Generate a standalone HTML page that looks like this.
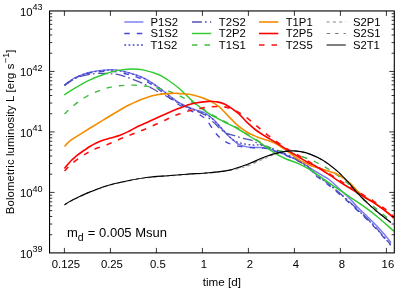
<!DOCTYPE html><html><head><meta charset="utf-8"><style>html,body{margin:0;padding:0;background:#fff}svg{display:block;will-change:transform;opacity:0.999}text{font-family:"Liberation Sans",sans-serif;fill:#000}</style></head><body>
<svg width="415" height="290" viewBox="0 0 415 290">
<rect width="415" height="290" fill="#fff"/>
<defs><clipPath id="c"><rect x="49.5" y="10.9" width="344.8" height="242.0"/></clipPath></defs>
<g fill="none" stroke-linejoin="round" clip-path="url(#c)">
<path d="M64.50,85.10 C66.17,83.92 70.42,80.10 74.50,78.00 C78.58,75.90 84.17,73.82 89.00,72.50 C93.83,71.18 99.17,70.53 103.50,70.10 C107.83,69.67 110.67,69.45 115.00,69.90 C119.33,70.35 124.67,71.43 129.50,72.80 C134.33,74.17 139.17,75.70 144.00,78.10 C148.83,80.50 153.67,83.82 158.50,87.20 C163.33,90.58 169.42,95.77 173.00,98.40 C176.58,101.03 176.50,101.18 180.00,103.00 C183.50,104.82 189.83,107.63 194.00,109.30 C198.17,110.97 201.75,111.28 205.00,113.00 C208.25,114.72 210.88,117.18 213.50,119.60 C216.12,122.02 218.28,124.85 220.70,127.50 C223.12,130.15 225.82,133.32 228.00,135.50 C230.18,137.68 232.13,139.18 233.80,140.60 C235.47,142.02 235.85,142.95 238.00,144.00 C240.15,145.05 243.57,146.32 246.70,146.90 C249.83,147.48 253.92,147.38 256.80,147.50 C259.68,147.62 261.52,147.25 264.00,147.60 C266.48,147.95 268.00,148.33 271.70,149.60 C275.40,150.87 281.85,153.38 286.20,155.20 C290.55,157.02 294.17,158.62 297.80,160.50 C301.43,162.38 305.22,164.78 308.00,166.50 C310.78,168.22 311.00,168.63 314.50,170.80 C318.00,172.97 325.13,176.75 329.00,179.50 C332.87,182.25 333.98,183.85 337.70,187.30 C341.42,190.75 347.92,196.82 351.30,200.20 C354.68,203.58 355.38,204.93 358.00,207.60 C360.62,210.27 364.10,213.37 367.00,216.20 C369.90,219.03 372.73,221.83 375.40,224.60 C378.07,227.37 380.40,229.80 383.00,232.80 C385.60,235.80 389.67,240.97 391.00,242.60" stroke="#7878f2" stroke-width="1.4"/>
<path d="M64.50,85.50 C66.17,84.32 70.42,80.45 74.50,78.40 C78.58,76.35 84.17,74.37 89.00,73.20 C93.83,72.03 99.17,71.65 103.50,71.40 C107.83,71.15 110.67,71.13 115.00,71.70 C119.33,72.27 124.67,73.38 129.50,74.80 C134.33,76.22 139.17,77.78 144.00,80.20 C148.83,82.62 153.67,85.90 158.50,89.30 C163.33,92.70 168.58,97.45 173.00,100.60 C177.42,103.75 180.53,105.83 185.00,108.20 C189.47,110.57 196.13,112.73 199.80,114.80 C203.47,116.87 204.38,117.57 207.00,120.60 C209.62,123.63 212.50,129.53 215.50,133.00 C218.50,136.47 221.62,139.32 225.00,141.40 C228.38,143.48 232.18,144.48 235.80,145.50 C239.42,146.52 243.20,147.12 246.70,147.50 C250.20,147.88 253.92,147.68 256.80,147.80 C259.68,147.92 261.52,147.78 264.00,148.20 C266.48,148.62 268.00,149.07 271.70,150.30 C275.40,151.53 281.85,153.82 286.20,155.60 C290.55,157.38 294.17,159.10 297.80,161.00 C301.43,162.90 305.22,164.75 308.00,167.00 C310.78,169.25 311.00,171.43 314.50,174.50 C318.00,177.57 324.17,181.53 329.00,185.40 C333.83,189.27 338.33,193.13 343.50,197.70 C348.67,202.27 354.75,207.82 360.00,212.80 C365.25,217.78 369.90,222.18 375.00,227.60 C380.10,233.02 388.00,242.35 390.60,245.30" stroke="#4646d8" stroke-width="1.35" stroke-dasharray="5.5,7"/>
<path d="M64.50,85.30 C66.17,84.12 70.42,80.28 74.50,78.20 C78.58,76.12 84.17,74.08 89.00,72.80 C93.83,71.52 99.17,70.93 103.50,70.50 C107.83,70.07 110.67,69.77 115.00,70.20 C119.33,70.63 124.67,71.72 129.50,73.10 C134.33,74.48 139.17,76.08 144.00,78.50 C148.83,80.92 153.67,84.20 158.50,87.60 C163.33,91.00 168.92,95.92 173.00,98.90 C177.08,101.88 179.00,103.48 183.00,105.50 C187.00,107.52 192.67,109.25 197.00,111.00 C201.33,112.75 205.50,113.75 209.00,116.00 C212.50,118.25 214.87,121.30 218.00,124.50 C221.13,127.70 225.20,132.57 227.80,135.20 C230.40,137.83 231.42,138.97 233.60,140.30 C235.78,141.63 237.75,142.42 240.90,143.20 C244.05,143.98 249.05,144.67 252.50,145.00 C255.95,145.33 258.40,144.48 261.60,145.20 C264.80,145.92 267.60,147.67 271.70,149.30 C275.80,150.93 281.85,153.15 286.20,155.00 C290.55,156.85 294.17,158.52 297.80,160.40 C301.43,162.28 305.22,164.12 308.00,166.30 C310.78,168.48 311.00,170.47 314.50,173.50 C318.00,176.53 324.17,180.62 329.00,184.50 C333.83,188.38 338.33,192.22 343.50,196.80 C348.67,201.38 354.75,206.97 360.00,212.00 C365.25,217.03 369.93,221.57 375.00,227.00 C380.07,232.43 387.83,241.67 390.40,244.60" stroke="#4444c8" stroke-width="1.3" stroke-dasharray="1.8,2.4"/>
<path d="M64.50,85.30 C66.17,84.22 71.63,80.32 74.50,78.80 C77.37,77.28 78.57,77.03 81.70,76.20 C84.83,75.37 89.67,74.28 93.30,73.80 C96.93,73.32 100.60,73.30 103.50,73.30 C106.40,73.30 108.05,73.55 110.70,73.80 C113.35,74.05 116.27,74.08 119.40,74.80 C122.53,75.52 125.40,76.58 129.50,78.10 C133.60,79.62 139.42,81.72 144.00,83.90 C148.58,86.08 153.00,89.02 157.00,91.20 C161.00,93.38 164.17,94.90 168.00,97.00 C171.83,99.10 175.67,101.63 180.00,103.80 C184.33,105.97 189.83,108.13 194.00,110.00 C198.17,111.87 201.53,112.73 205.00,115.00 C208.47,117.27 212.13,121.18 214.80,123.60 C217.47,126.02 219.07,127.88 221.00,129.50 C222.93,131.12 224.30,132.32 226.40,133.30 C228.50,134.28 230.95,134.60 233.60,135.40 C236.25,136.20 239.15,137.23 242.30,138.10 C245.45,138.97 249.77,139.65 252.50,140.60 C255.23,141.55 255.98,142.67 258.70,143.80 C261.42,144.93 265.42,146.23 268.80,147.40 C272.18,148.57 275.47,149.37 279.00,150.80 C282.53,152.23 286.50,154.17 290.00,156.00 C293.50,157.83 295.92,158.97 300.00,161.80 C304.08,164.63 309.67,169.30 314.50,173.00 C319.33,176.70 324.17,180.12 329.00,184.00 C333.83,187.88 338.33,191.70 343.50,196.30 C348.67,200.90 354.75,206.55 360.00,211.60 C365.25,216.65 369.97,221.20 375.00,226.60 C380.03,232.00 387.67,241.10 390.20,244.00" stroke="#5252b4" stroke-width="1.3" stroke-dasharray="9.9,3.1,1.7,3.3"/>
<path d="M64.30,94.80 C66.00,93.72 70.38,90.72 74.50,88.30 C78.62,85.88 84.17,82.60 89.00,80.30 C93.83,78.00 98.67,76.15 103.50,74.50 C108.33,72.85 113.18,71.32 118.00,70.40 C122.82,69.48 128.07,69.05 132.40,69.00 C136.73,68.95 139.65,69.18 144.00,70.10 C148.35,71.02 154.52,72.85 158.50,74.50 C162.48,76.15 164.40,77.63 167.90,80.00 C171.40,82.37 175.15,84.95 179.50,88.70 C183.85,92.45 189.17,98.40 194.00,102.50 C198.83,106.60 203.67,110.17 208.50,113.30 C213.33,116.43 218.08,118.68 223.00,121.30 C227.92,123.92 233.50,126.47 238.00,129.00 C242.50,131.53 246.55,134.40 250.00,136.50 C253.45,138.60 255.80,139.67 258.70,141.60 C261.60,143.53 264.52,146.05 267.40,148.10 C270.28,150.15 272.87,152.08 276.00,153.90 C279.13,155.72 282.57,157.43 286.20,159.00 C289.83,160.57 293.83,161.55 297.80,163.30 C301.77,165.05 307.22,167.93 310.00,169.50 C312.78,171.07 311.33,170.47 314.50,172.70 C317.67,174.93 324.17,179.57 329.00,182.90 C333.83,186.23 338.67,189.45 343.50,192.70 C348.33,195.95 353.97,199.65 358.00,202.40 C362.03,205.15 364.48,206.80 367.70,209.20 C370.92,211.60 374.08,214.15 377.30,216.80 C380.52,219.45 384.25,222.70 387.00,225.10 C389.75,227.50 392.67,230.18 393.80,231.20" stroke="#30cb30" stroke-width="1.45"/>
<path d="M64.50,114.10 C65.75,112.92 68.88,109.62 72.00,107.00 C75.12,104.38 79.17,100.92 83.20,98.40 C87.23,95.88 92.10,93.67 96.20,91.90 C100.30,90.13 103.95,88.82 107.80,87.80 C111.65,86.78 115.20,86.25 119.30,85.80 C123.40,85.35 128.17,85.05 132.40,85.10 C136.63,85.15 140.60,85.63 144.70,86.10 C148.80,86.57 153.02,87.05 157.00,87.90 C160.98,88.75 164.85,89.87 168.60,91.20 C172.35,92.53 175.77,94.15 179.50,95.90 C183.23,97.65 187.58,99.85 191.00,101.70 C194.42,103.55 197.08,105.20 200.00,107.00 C202.92,108.80 204.67,110.25 208.50,112.50 C212.33,114.75 218.08,117.88 223.00,120.50 C227.92,123.12 233.50,125.62 238.00,128.20 C242.50,130.78 246.55,133.82 250.00,136.00 C253.45,138.18 256.28,139.80 258.70,141.30 C261.12,142.80 262.45,143.88 264.50,145.00 C266.55,146.12 268.78,147.12 271.00,148.00 C273.22,148.88 275.63,149.70 277.80,150.30 C279.97,150.90 281.80,151.15 284.00,151.60 C286.20,152.05 288.42,152.30 291.00,153.00 C293.58,153.70 295.83,154.52 299.50,155.80 C303.17,157.08 309.05,158.98 313.00,160.70 C316.95,162.42 319.82,164.17 323.20,166.10 C326.58,168.03 329.92,169.98 333.30,172.30 C336.68,174.62 340.38,177.55 343.50,180.00 C346.62,182.45 349.00,184.00 352.00,187.00 C355.00,190.00 358.30,195.03 361.50,198.00 C364.70,200.97 367.98,202.38 371.20,204.80 C374.42,207.22 377.58,209.87 380.80,212.50 C384.02,215.13 388.88,219.25 390.50,220.60" stroke="#3fba3f" stroke-width="1.4" stroke-dasharray="5.5,7"/>
<path d="M64.50,146.50 C65.08,145.87 66.82,143.83 68.00,142.70 C69.18,141.57 69.60,141.08 71.60,139.70 C73.60,138.32 77.10,136.22 80.00,134.40 C82.90,132.58 85.08,131.22 89.00,128.80 C92.92,126.38 98.33,123.03 103.50,119.90 C108.67,116.77 115.75,112.48 120.00,110.00 C124.25,107.52 125.00,106.93 129.00,105.00 C133.00,103.07 139.08,100.15 144.00,98.40 C148.92,96.65 153.67,95.35 158.50,94.50 C163.33,93.65 169.50,93.45 173.00,93.30 C176.50,93.15 176.00,93.28 179.50,93.60 C183.00,93.92 189.17,94.08 194.00,95.20 C198.83,96.32 204.38,98.43 208.50,100.30 C212.62,102.17 215.40,103.77 218.70,106.40 C222.00,109.03 225.08,112.88 228.30,116.10 C231.52,119.32 234.78,122.97 238.00,125.70 C241.22,128.43 244.38,130.62 247.60,132.50 C250.82,134.38 254.48,135.85 257.30,137.00 C260.12,138.15 261.62,138.40 264.50,139.40 C267.38,140.40 270.98,141.18 274.60,143.00 C278.22,144.82 283.55,148.53 286.20,150.30 C288.85,152.07 289.07,152.50 290.50,153.60 C291.93,154.70 293.27,155.82 294.80,156.90 C296.33,157.98 298.08,159.15 299.70,160.10 C301.32,161.05 302.90,161.80 304.50,162.60 C306.10,163.40 307.68,164.20 309.30,164.90 C310.92,165.60 312.58,166.23 314.20,166.80 C315.82,167.37 317.08,167.73 319.00,168.30 C320.92,168.87 323.87,169.63 325.70,170.20 C327.53,170.77 328.25,171.10 330.00,171.70 C331.75,172.30 333.95,172.73 336.20,173.80 C338.45,174.87 341.08,176.42 343.50,178.10 C345.92,179.78 348.28,181.65 350.70,183.90 C353.12,186.15 355.65,189.42 358.00,191.60 C360.35,193.78 362.38,195.33 364.80,197.00 C367.22,198.67 369.60,199.72 372.50,201.60 C375.40,203.48 378.95,205.90 382.20,208.30 C385.45,210.70 390.37,214.72 392.00,216.00" stroke="#f48c00" stroke-width="1.6"/>
<path d="M64.50,168.40 C64.92,167.88 66.25,166.20 67.00,165.30 C67.75,164.40 68.25,163.83 69.00,163.00 C69.75,162.17 70.58,161.20 71.50,160.30 C72.42,159.40 73.42,158.53 74.50,157.60 C75.58,156.67 76.80,155.63 78.00,154.70 C79.20,153.77 80.42,152.90 81.70,152.00 C82.98,151.10 84.48,150.13 85.70,149.30 C86.92,148.47 87.25,148.05 89.00,147.00 C90.75,145.95 93.78,144.15 96.20,143.00 C98.62,141.85 101.08,140.93 103.50,140.10 C105.92,139.27 107.95,138.80 110.70,138.00 C113.45,137.20 116.95,136.43 120.00,135.30 C123.05,134.17 125.95,132.70 129.00,131.20 C132.05,129.70 135.13,127.83 138.30,126.30 C141.47,124.77 144.78,123.47 148.00,122.00 C151.22,120.53 154.38,118.97 157.60,117.50 C160.82,116.03 164.07,114.60 167.30,113.20 C170.53,111.80 173.78,110.40 177.00,109.10 C180.22,107.80 183.77,106.38 186.60,105.40 C189.43,104.42 190.35,103.87 194.00,103.20 C197.65,102.53 204.88,101.65 208.50,101.40 C212.12,101.15 212.95,101.22 215.70,101.70 C218.45,102.18 221.28,102.38 225.00,104.30 C228.72,106.22 234.23,110.10 238.00,113.20 C241.77,116.30 244.63,120.10 247.60,122.90 C250.57,125.70 252.98,127.85 255.80,130.00 C258.62,132.15 260.63,133.38 264.50,135.80 C268.37,138.22 274.17,141.48 279.00,144.50 C283.83,147.52 288.67,150.90 293.50,153.90 C298.33,156.90 304.50,160.57 308.00,162.50 C311.50,164.43 311.00,163.48 314.50,165.50 C318.00,167.52 324.17,171.47 329.00,174.60 C333.83,177.73 338.67,181.23 343.50,184.30 C348.33,187.37 354.45,190.80 358.00,193.00 C361.55,195.20 362.38,196.02 364.80,197.50 C367.22,198.98 369.60,200.05 372.50,201.90 C375.40,203.75 379.30,206.48 382.20,208.60 C385.10,210.72 387.97,213.00 389.90,214.60 C391.83,216.20 393.15,217.60 393.80,218.20" stroke="#ff0000" stroke-width="1.6"/>
<path d="M64.50,170.90 C65.75,169.67 69.10,165.93 72.00,163.50 C74.90,161.07 79.07,158.22 81.90,156.30 C84.73,154.38 86.73,153.25 89.00,152.00 C91.27,150.75 92.48,150.00 95.50,148.80 C98.52,147.60 103.35,146.28 107.10,144.80 C110.85,143.32 114.35,141.45 118.00,139.90 C121.65,138.35 124.50,137.28 129.00,135.50 C133.50,133.72 138.88,131.80 145.00,129.20 C151.12,126.60 160.70,122.18 165.70,119.90 C170.70,117.62 171.37,116.95 175.00,115.50 C178.63,114.05 183.50,112.33 187.50,111.20 C191.50,110.07 195.02,109.43 199.00,108.70 C202.98,107.97 207.28,107.12 211.40,106.80 C215.52,106.48 219.77,106.18 223.70,106.80 C227.63,107.42 231.33,108.80 235.00,110.50 C238.67,112.20 242.30,114.62 245.70,117.00 C249.10,119.38 252.27,122.20 255.40,124.80 C258.53,127.40 261.30,130.05 264.50,132.60 C267.70,135.15 271.22,137.63 274.60,140.10 C277.98,142.57 281.65,145.35 284.80,147.40 C287.95,149.45 289.63,150.12 293.50,152.40 C297.37,154.68 302.08,157.55 308.00,161.10 C313.92,164.65 323.08,170.07 329.00,173.70 C334.92,177.33 338.67,179.93 343.50,182.90 C348.33,185.87 354.45,189.33 358.00,191.50 C361.55,193.67 362.38,194.43 364.80,195.90 C367.22,197.37 369.60,198.45 372.50,200.30 C375.40,202.15 379.30,204.88 382.20,207.00 C385.10,209.12 387.97,211.40 389.90,213.00 C391.83,214.60 393.15,216.00 393.80,216.60" stroke="#ff1010" stroke-width="1.6" stroke-dasharray="5.5,7"/>
<path d="M64.50,205.00 C65.75,204.27 68.15,202.57 72.00,200.60 C75.85,198.63 81.77,195.63 87.60,193.20 C93.43,190.77 100.10,188.07 107.00,186.00 C113.90,183.93 122.12,182.20 129.00,180.80 C135.88,179.40 141.87,178.40 148.30,177.60 C154.73,176.80 161.15,176.52 167.60,176.00 C174.05,175.48 180.10,175.00 187.00,174.50 C193.90,174.00 202.12,173.63 209.00,173.00 C215.88,172.37 221.87,171.88 228.30,170.70 C234.73,169.52 241.57,167.92 247.60,165.90 C253.63,163.88 259.27,160.77 264.50,158.60 C269.73,156.43 274.42,154.13 279.00,152.90 C283.58,151.67 288.38,151.37 292.00,151.20 C295.62,151.03 297.70,151.37 300.70,151.90 C303.70,152.43 306.37,153.00 310.00,154.40 C313.63,155.80 318.13,157.63 322.50,160.30 C326.87,162.97 331.98,166.78 336.20,170.40 C340.42,174.02 344.17,178.08 347.80,182.00 C351.43,185.92 354.75,190.37 358.00,193.90 C361.25,197.43 364.13,200.22 367.30,203.20 C370.47,206.18 373.07,208.53 377.00,211.80 C380.93,215.07 388.58,220.97 390.90,222.80" stroke="#aeaeae" stroke-width="1.3" stroke-dasharray="3,3.3"/>
<path d="M64.50,204.70 C65.75,203.97 68.15,202.27 72.00,200.30 C75.85,198.33 81.77,195.33 87.60,192.90 C93.43,190.47 100.10,187.77 107.00,185.70 C113.90,183.63 122.12,181.90 129.00,180.50 C135.88,179.10 141.87,178.10 148.30,177.30 C154.73,176.50 161.15,176.22 167.60,175.70 C174.05,175.18 180.10,174.70 187.00,174.20 C193.90,173.70 202.12,173.33 209.00,172.70 C215.88,172.07 221.87,171.67 228.30,170.40 C234.73,169.13 241.57,167.20 247.60,165.10 C253.63,163.00 259.27,159.88 264.50,157.80 C269.73,155.72 274.42,153.75 279.00,152.60 C283.58,151.45 288.38,151.07 292.00,150.90 C295.62,150.73 297.70,151.07 300.70,151.60 C303.70,152.13 306.37,152.70 310.00,154.10 C313.63,155.50 318.13,157.33 322.50,160.00 C326.87,162.67 331.98,166.48 336.20,170.10 C340.42,173.72 344.17,177.78 347.80,181.70 C351.43,185.62 354.75,190.07 358.00,193.60 C361.25,197.13 364.13,199.92 367.30,202.90 C370.47,205.88 373.07,208.23 377.00,211.50 C380.93,214.77 388.58,220.67 390.90,222.50" stroke="#444444" stroke-width="0.7" stroke-dasharray="3.5,5"/>
<path d="M64.50,204.70 C65.75,203.97 68.15,202.27 72.00,200.30 C75.85,198.33 81.77,195.33 87.60,192.90 C93.43,190.47 100.10,187.77 107.00,185.70 C113.90,183.63 122.12,181.90 129.00,180.50 C135.88,179.10 141.87,178.10 148.30,177.30 C154.73,176.50 161.15,176.22 167.60,175.70 C174.05,175.18 180.10,174.70 187.00,174.20 C193.90,173.70 202.12,173.33 209.00,172.70 C215.88,172.07 221.87,171.80 228.30,170.40 C234.73,169.00 241.57,166.53 247.60,164.30 C253.63,162.07 259.27,158.95 264.50,157.00 C269.73,155.05 274.42,153.62 279.00,152.60 C283.58,151.58 288.38,151.07 292.00,150.90 C295.62,150.73 297.70,151.07 300.70,151.60 C303.70,152.13 306.37,152.70 310.00,154.10 C313.63,155.50 318.13,157.33 322.50,160.00 C326.87,162.67 331.98,166.48 336.20,170.10 C340.42,173.72 344.17,177.78 347.80,181.70 C351.43,185.62 354.75,190.07 358.00,193.60 C361.25,197.13 364.13,199.92 367.30,202.90 C370.47,205.88 373.07,208.23 377.00,211.50 C380.93,214.77 388.58,220.67 390.90,222.50" stroke="#000000" stroke-width="1.15"/>
</g>
<path d="M64.40,252.90v-5.00M64.40,10.95v5.00M110.40,252.90v-5.00M110.40,10.95v5.00M156.40,252.90v-5.00M156.40,10.95v5.00M202.40,252.90v-5.00M202.40,10.95v5.00M248.40,252.90v-5.00M248.40,10.95v5.00M294.40,252.90v-5.00M294.40,10.95v5.00M340.40,252.90v-5.00M340.40,10.95v5.00M386.40,252.90v-5.00M386.40,10.95v5.00M49.55,234.69h2.70M394.30,234.69h-2.70M49.55,224.04h2.70M394.30,224.04h-2.70M49.55,216.48h2.70M394.30,216.48h-2.70M49.55,210.62h2.70M394.30,210.62h-2.70M49.55,205.83h2.70M394.30,205.83h-2.70M49.55,201.78h2.70M394.30,201.78h-2.70M49.55,198.27h2.70M394.30,198.27h-2.70M49.55,195.18h2.70M394.30,195.18h-2.70M49.55,192.41h5.00M394.30,192.41h-5.00M49.55,174.20h2.70M394.30,174.20h-2.70M49.55,163.55h2.70M394.30,163.55h-2.70M49.55,156.00h2.70M394.30,156.00h-2.70M49.55,150.13h2.70M394.30,150.13h-2.70M49.55,145.34h2.70M394.30,145.34h-2.70M49.55,141.29h2.70M394.30,141.29h-2.70M49.55,137.79h2.70M394.30,137.79h-2.70M49.55,134.69h2.70M394.30,134.69h-2.70M49.55,131.93h5.00M394.30,131.93h-5.00M49.55,113.72h2.70M394.30,113.72h-2.70M49.55,103.07h2.70M394.30,103.07h-2.70M49.55,95.51h2.70M394.30,95.51h-2.70M49.55,89.65h2.70M394.30,89.65h-2.70M49.55,84.86h2.70M394.30,84.86h-2.70M49.55,80.81h2.70M394.30,80.81h-2.70M49.55,77.30h2.70M394.30,77.30h-2.70M49.55,74.21h2.70M394.30,74.21h-2.70M49.55,71.44h5.00M394.30,71.44h-5.00M49.55,53.23h2.70M394.30,53.23h-2.70M49.55,42.58h2.70M394.30,42.58h-2.70M49.55,35.02h2.70M394.30,35.02h-2.70M49.55,29.16h2.70M394.30,29.16h-2.70M49.55,24.37h2.70M394.30,24.37h-2.70M49.55,20.32h2.70M394.30,20.32h-2.70M49.55,16.81h2.70M394.30,16.81h-2.70M49.55,13.72h2.70M394.30,13.72h-2.70" stroke="#000" stroke-width="0.8" fill="none"/>
<rect x="49.55" y="10.95" width="344.75" height="241.95" fill="none" stroke="#000" stroke-width="1.1"/>
<text x="65.90" y="268.4" font-size="11.3" text-anchor="middle">0.125</text>
<text x="111.90" y="268.4" font-size="11.3" text-anchor="middle">0.25</text>
<text x="157.90" y="268.4" font-size="11.3" text-anchor="middle">0.5</text>
<text x="203.90" y="268.4" font-size="11.3" text-anchor="middle">1</text>
<text x="249.90" y="268.4" font-size="11.3" text-anchor="middle">2</text>
<text x="295.90" y="268.4" font-size="11.3" text-anchor="middle">4</text>
<text x="341.90" y="268.4" font-size="11.3" text-anchor="middle">8</text>
<text x="387.90" y="268.4" font-size="11.3" text-anchor="middle">16</text>
<text x="20.0" y="257.70" font-size="11.3">10<tspan dy="-5.3" font-size="9.05">39</tspan></text>
<text x="20.0" y="197.21" font-size="11.3">10<tspan dy="-5.3" font-size="9.05">40</tspan></text>
<text x="20.0" y="136.73" font-size="11.3">10<tspan dy="-5.3" font-size="9.05">41</tspan></text>
<text x="20.0" y="76.24" font-size="11.3">10<tspan dy="-5.3" font-size="9.05">42</tspan></text>
<text x="20.0" y="15.75" font-size="11.3">10<tspan dy="-5.3" font-size="9.05">43</tspan></text>
<text x="221.8" y="286.0" font-size="11.65" text-anchor="middle">time [d]</text>
<text transform="translate(13.8,214.2) rotate(-90)" font-size="11.3"><tspan letter-spacing="0.155">Bolometric </tspan><tspan letter-spacing="0.05">luminosity</tspan><tspan letter-spacing="0.17"> L [erg s</tspan><tspan dy="-5.3" font-size="9.05" letter-spacing="0.17">−1</tspan><tspan dy="5.3">]</tspan></text>
<text x="67" y="237.2" font-size="13">m<tspan dy="3.7" font-size="10.6">d</tspan><tspan dy="-3.7" dx="0.5"> = 0.005 Msun</tspan></text>
<g fill="none">
<path d="M124.30,22.00H143.40" stroke="#7878f2" stroke-width="1.4"/>
<path d="M124.30,33.50H143.40" stroke="#4646d8" stroke-width="1.35" stroke-dasharray="5.5,7"/>
<path d="M124.30,45.00H143.40" stroke="#4444c8" stroke-width="1.3" stroke-dasharray="1.8,2.4"/>
<path d="M192.00,22.00H211.20" stroke="#5252b4" stroke-width="1.3" stroke-dasharray="9.9,3.1,1.7,3.3"/>
<path d="M192.00,33.50H211.20" stroke="#30cb30" stroke-width="1.45"/>
<path d="M192.00,45.00H211.20" stroke="#3fba3f" stroke-width="1.4" stroke-dasharray="5.5,7"/>
<path d="M259.00,22.00H278.30" stroke="#f48c00" stroke-width="1.6"/>
<path d="M259.00,33.50H278.30" stroke="#ff0000" stroke-width="1.6"/>
<path d="M259.00,45.00H278.30" stroke="#ff1010" stroke-width="1.6" stroke-dasharray="5.5,7"/>
<path d="M326.60,22.00H345.80" stroke="#aeaeae" stroke-width="1.3" stroke-dasharray="3,3.3"/>
<path d="M326.60,33.50H345.80" stroke="#444444" stroke-width="0.7" stroke-dasharray="3.5,5"/>
<path d="M326.60,45.00H345.80" stroke="#000000" stroke-width="1.0"/>
</g>
<text x="150.40" y="25.85" font-size="11.3">P1S2</text>
<text x="150.40" y="37.35" font-size="11.3">S1S2</text>
<text x="150.40" y="48.85" font-size="11.3">T1S2</text>
<text x="218.80" y="25.85" font-size="11.3">T2S2</text>
<text x="218.80" y="37.35" font-size="11.3">T2P2</text>
<text x="218.80" y="48.85" font-size="11.3">T1S1</text>
<text x="285.70" y="25.85" font-size="11.3">T1P1</text>
<text x="285.70" y="37.35" font-size="11.3">T2P5</text>
<text x="285.70" y="48.85" font-size="11.3">T2S5</text>
<text x="352.90" y="25.85" font-size="11.3">S2P1</text>
<text x="352.90" y="37.35" font-size="11.3">S2S1</text>
<text x="352.90" y="48.85" font-size="11.3">S2T1</text>
</svg></body></html>
